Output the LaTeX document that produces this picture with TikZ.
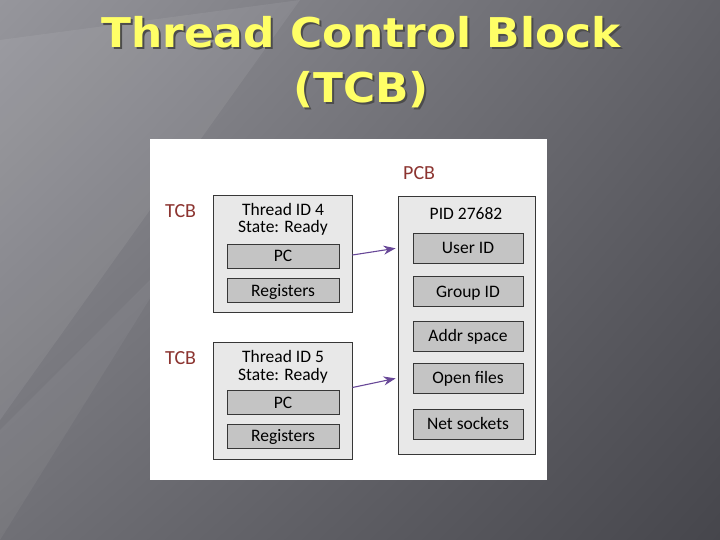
\documentclass[tikz,border=0pt]{standalone}
\usepackage{fontspec}
\setmainfont{Carlito}
\newfontfamily\titlefont{DejaVu Sans}
\usetikzlibrary{arrows.meta,shadings}

\definecolor{tcbred}{RGB}{140,52,48}
\definecolor{ptrpurple}{RGB}{104,72,152}
\definecolor{titleyellow}{RGB}{255,255,102}
\definecolor{outerfill}{RGB}{232,232,232}
\definecolor{innerfill}{RGB}{196,196,196}
\definecolor{edgegray}{RGB}{55,55,55}
\definecolor{bgul}{RGB}{150,150,156}
\definecolor{bgur}{RGB}{98,98,104}
\definecolor{bgll}{RGB}{112,112,118}
\definecolor{bglr}{RGB}{70,70,76}

\begin{document}
\begin{tikzpicture}[x=1pt,y=-1pt,
    outerbox/.style={draw=edgegray,fill=outerfill,line width=0.9pt,inner sep=0pt},
    innerbox/.style={draw=edgegray,fill=innerfill,line width=0.9pt,inner sep=0pt,
      text height=11pt,text depth=0pt,font=\fontsize{17.5}{21}\selectfont},
    boxtext/.style={anchor=base,inner sep=0pt,font=\fontsize{17.5}{21}\selectfont},
    blocklabel/.style={anchor=base west,inner sep=0pt,text=tcbred,font=\fontsize{20}{24}\selectfont},
    pointer/.style={draw=ptrpurple,line width=1.1pt,-{Stealth[length=12pt,width=9pt]},shorten >=2pt}]
  \useasboundingbox (0,0) rectangle (720,540);
  % slide background
  \shade[upper left=bgul,upper right=bgur,lower left=bgll,lower right=bglr] (0,0) rectangle (720,540);
  \fill[white,opacity=0.07] (0,40) -- (300,0) -- (0,420) -- cycle;
  \fill[white,opacity=0.05] (0,430) -- (180,250) -- (0,540) -- cycle;

  % title
  \foreach \txt/\yb [count=\i] in {Thread Control Block/48,(TCB)/103} {
    \node[anchor=base,inner sep=0pt,text=black!70,font=\titlefont\bfseries\fontsize{41}{50}\selectfont]
      (shadow\i) at (363,\yb+2) {\scalebox{1.07}[1]{\txt}};
    \node[anchor=base,inner sep=0pt,text=titleyellow,font=\titlefont\bfseries\fontsize{41}{50}\selectfont]
      (title\i) at (361,\yb) {\scalebox{1.07}[1]{\txt}};
  }

  % diagram panel
  \fill[white] (150,139) rectangle (547,480);

  % thread blocks
  \node[blocklabel] (tcbA) at (165,218) {TCB};
  \node[outerbox,minimum width=139pt,minimum height=117pt] (thA) at (282.5,253.5) {};
  \node[boxtext] (idA) at (283,215) {Thread ID 4};
  \node[boxtext] (stA) at (283,233) {State: Ready};
  \node[innerbox,minimum width=112pt,minimum height=24pt] (pcA) at (283,256) {PC};
  \node[innerbox,minimum width=112pt,minimum height=24pt] (regA) at (283,290.5) {Registers};

  \node[blocklabel] (tcbB) at (165,364) {TCB};
  \node[outerbox,minimum width=139pt,minimum height=117pt] (thB) at (282.5,400.5) {};
  \node[boxtext] (idB) at (283,362) {Thread ID 5};
  \node[boxtext] (stB) at (283,380) {State: Ready};
  \node[innerbox,minimum width=112pt,minimum height=24pt] (pcB) at (283,402.5) {PC};
  \node[innerbox,minimum width=112pt,minimum height=24pt] (regB) at (283,436) {Registers};

  % process block
  \node[blocklabel] (pcbl) at (403,180) {PCB};
  \node[outerbox,minimum width=137pt,minimum height=258pt] (pcb) at (466.5,325) {};
  \node[boxtext] (pid) at (466,219) {PID 27682};
  \node[innerbox,minimum width=110pt,minimum height=30pt] (uid) at (468,248) {User ID};
  \node[innerbox,minimum width=110pt,minimum height=30pt] (gid) at (468,291.5) {Group ID};
  \node[innerbox,minimum width=110pt,minimum height=30pt] (addr) at (468,336) {Addr space};
  \node[innerbox,minimum width=110pt,minimum height=30pt] (files) at (468,378) {Open files};
  \node[innerbox,minimum width=110pt,minimum height=30pt] (socks) at (468,424) {Net sockets};

  % thread -> process
  \draw[pointer] ([yshift=-1.5pt]thA.east) -- (pcb.west |- uid);
  \draw[pointer] ([yshift=13pt]thB.east) -- (pcb.west |- files);
\end{tikzpicture}
\end{document}
